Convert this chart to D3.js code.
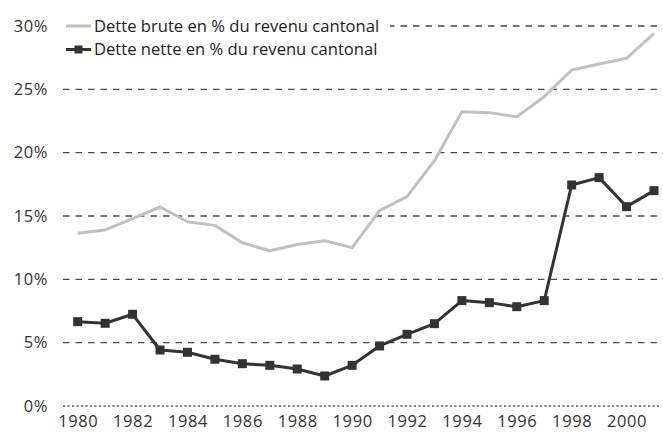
<!DOCTYPE html>
<html><head><meta charset="utf-8">
<script src="https://cdn.jsdelivr.net/npm/d3@7"></script>
<style>body{margin:0;background:#fff}svg{display:block}text{font-family:"Open Sans",sans-serif}</style>
</head><body><svg id="c" width="663" height="442"></svg>
<script>
const years = [1980,1981,1982,1983,1984,1985,1986,1987,1988,1989,1990,1991,1992,1993,1994,1995,1996,1997,1998,1999,2000,2001];
const gross = [13.63,13.9,14.8,15.71,14.55,14.26,12.89,12.26,12.75,13.05,12.5,15.42,16.53,19.37,23.24,23.16,22.84,24.42,26.53,27.0,27.45,29.42];
const net = [6.66,6.53,7.24,4.42,4.24,3.69,3.34,3.21,2.92,2.37,3.21,4.74,5.66,6.5,8.32,8.16,7.84,8.32,17.45,18.03,15.74,17.0];
const yTicks = [0,5,10,15,20,25,30];
const xTicks = [1980,1982,1984,1986,1988,1990,1992,1994,1996,1998,2000];
const legendLabels = ["Dette brute en % du revenu cantonal","Dette nette en % du revenu cantonal"];

const svg = d3.select("#c");
const x = d3.scaleLinear().domain([1980,2001]).range([77.7,654]);
const y = d3.scaleLinear().domain([0,30]).range([406,26]);

// grid
const grid = svg.append("g");
grid.selectAll("line").data(yTicks.filter(d=>d>0)).join("line")
  .attr("x1",63).attr("x2",658).attr("y1",d=>y(d)).attr("y2",d=>y(d))
  .attr("stroke","#4a4a4a").attr("stroke-width",1.3).attr("stroke-dasharray","6.5,6");
svg.append("line").attr("x1",63).attr("x2",661).attr("y1",y(0)).attr("y2",y(0))
  .attr("stroke","#000").attr("stroke-width",1).attr("stroke-dasharray","2,2.5");

// y axis labels
const yAxis = d3.axisLeft(y).tickValues(yTicks).tickFormat(d=>d+"%").tickSize(0).tickPadding(0);
const ya = svg.append("g").attr("transform","translate(48,0)").call(yAxis);
ya.select(".domain").remove();
ya.selectAll("text").attr("font-size",16.5).attr("fill","#333").attr("font-family","Open Sans").attr("letter-spacing",0.6);

// x axis labels
const xAxis = d3.axisBottom(x).tickValues(xTicks).tickFormat(d3.format("d")).tickSize(0).tickPadding(0);
const xa = svg.append("g").attr("transform","translate(0,415)").call(xAxis);
xa.select(".domain").remove();
xa.selectAll("text").attr("font-size",16.5).attr("fill","#333").attr("font-family","Open Sans").attr("letter-spacing",0.6);

const line = d3.line().x((d,i)=>x(years[i])).y(d=>y(d));
svg.append("path").datum(gross).attr("d",line).attr("fill","none").attr("stroke","#c0c0c0").attr("stroke-width",3).attr("stroke-linejoin","round");
svg.append("path").datum(net).attr("d",line).attr("fill","none").attr("stroke","#333").attr("stroke-width",3).attr("stroke-linejoin","round");
svg.selectAll("rect.m").data(net).join("rect").attr("class","m")
  .attr("x",(d,i)=>x(years[i])-4.5).attr("y",d=>y(d)-4.5).attr("width",9).attr("height",9).attr("fill","#333");

// legend
const lg = svg.append("g");
lg.append("rect").attr("x",60).attr("y",14).attr("width",330).attr("height",50).attr("fill","#fff");
const rows = [{c:"#c0c0c0",m:false},{c:"#333",m:true}];
rows.forEach((r,i)=>{
  const yy = 26 + i*23.5;
  lg.append("line").attr("x1",66).attr("x2",91).attr("y1",yy).attr("y2",yy).attr("stroke",r.c).attr("stroke-width",3);
  if(r.m) lg.append("rect").attr("x",74.5).attr("y",yy-4).attr("width",8).attr("height",8).attr("fill",r.c);
  lg.append("text").attr("x",94).attr("y",yy).attr("dy","0.35em").attr("font-size",16.6).attr("fill","#222").text(legendLabels[i]);
});
</script></body></html>
